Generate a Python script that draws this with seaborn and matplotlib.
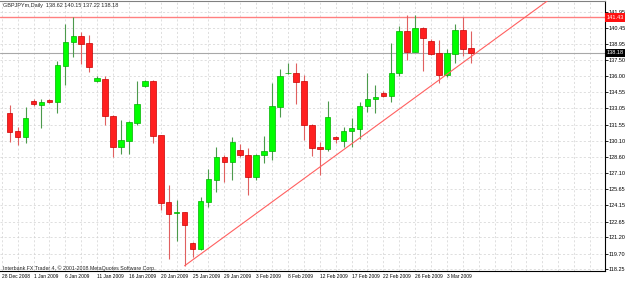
import numpy as np
import pandas as pd
import matplotlib
matplotlib.use('Agg')
import matplotlib.pyplot as plt
import seaborn as sns

sns.set_style('white')
plt.rcParams['font.family'] = ['Liberation Sans Narrow', 'Liberation Sans', 'DejaVu Sans']

# Velas diarias GBPJPY
opens = [132.66, 130.97, 130.45, 133.71, 133.34, 133.83, 133.61, 136.98, 139.13, 139.71,
         139.04, 135.55, 135.79, 132.35, 129.53, 130.08, 131.74, 135.11, 135.55, 130.58,
         124.44, 123.40, 123.52, 120.70, 120.12, 124.47, 126.47, 128.55, 128.15, 129.23,
         128.79, 126.71, 128.79, 129.13, 133.21, 136.28, 136.31, 135.55, 131.50, 129.47,
         129.35, 130.39, 130.03, 130.97, 131.19, 133.27, 133.89, 134.44, 134.22, 136.28,
         140.17, 138.27, 140.45, 139.28, 138.15, 136.15, 138.06, 140.27, 138.62]
highs = [133.34, 131.37, 133.15, 133.89, 133.89, 133.95, 137.41, 140.82, 141.49, 140.05,
         139.78, 136.06, 136.06, 132.42, 131.99, 131.87, 135.60, 135.67, 135.67, 130.63,
         126.01, 124.63, 123.55, 120.75, 124.93, 127.51, 129.53, 128.77, 130.45, 129.75,
         129.41, 128.85, 130.51, 135.42, 136.65, 137.26, 137.26, 136.10, 131.62, 129.93,
         133.76, 130.51, 131.31, 132.14, 133.64, 136.28, 135.23, 134.65, 139.10, 140.66,
         141.65, 141.65, 140.52, 139.41, 139.35, 138.49, 140.82, 141.49, 140.15]
lows = [129.99, 129.69, 129.90, 133.27, 131.22, 133.58, 132.66, 135.21, 137.81, 137.14,
        136.43, 135.45, 131.53, 128.61, 128.86, 128.86, 131.53, 135.05, 129.90, 123.71,
        119.17, 120.88, 118.58, 119.41, 120.03, 124.01, 125.39, 126.31, 126.47, 128.61,
        125.09, 126.47, 128.00, 128.31, 132.29, 136.22, 133.46, 130.15, 128.67, 126.93,
        129.16, 129.90, 129.47, 129.53, 130.21, 132.75, 132.60, 134.13, 133.67, 136.03,
        137.51, 138.20, 136.52, 137.97, 135.36, 135.97, 137.20, 137.87, 137.22]
closes = [130.91, 130.42, 132.17, 133.49, 133.64, 133.64, 137.07, 139.16, 139.71, 139.01,
          136.83, 135.82, 132.35, 129.53, 130.15, 131.80, 133.43, 135.57, 130.51, 124.38,
          123.34, 123.52, 122.33, 120.12, 124.51, 126.53, 128.55, 128.15, 129.96, 128.79,
          126.71, 128.79, 129.16, 133.27, 136.03, 136.34, 135.51, 131.53, 129.44, 129.35,
          132.29, 130.21, 130.95, 131.28, 133.27, 133.92, 134.10, 134.19, 136.28, 140.17,
          138.27, 140.45, 139.56, 138.06, 136.15, 138.12, 140.27, 138.55, 138.18]

date_labels = ['28 Dec 2008', '1 Jan 2009', '6 Jan 2009', '11 Jan 2009', '16 Jan 2009',
               '20 Jan 2009', '25 Jan 2009', '29 Jan 2009', '3 Feb 2009', '8 Feb 2009',
               '12 Feb 2009', '17 Feb 2009', '22 Feb 2009', '26 Feb 2009', '3 Mar 2009']
date_pos = [-1, 3, 7, 11, 15, 19, 23, 27, 31, 35, 39, 43, 47, 51, 55]
price_ticks = [141.95, 140.45, 138.95, 137.50, 136.00, 134.55, 133.05, 131.55, 130.10,
               128.60, 127.10, 125.65, 124.15, 122.65, 121.20, 119.70, 118.25]

level_line = 141.43
last_price = 138.18
trend_x = [22, 55]
trend_y = [118.58, 136.20]

df = pd.DataFrame({'open': opens, 'high': highs, 'low': lows, 'close': closes})
df['bar'] = np.arange(len(df))
df['up'] = df['close'] >= df['open']

fig = plt.figure(figsize=(6.25, 2.81), dpi=100)
ax = fig.add_axes([0, 0.0345, 0.9675, 0.9609])

# grade
ax.set_xticks(date_pos)
ax.set_xticklabels(date_labels, ha='left')
ax.set_xticks(np.arange(-1, 76, 2), minor=True)
ax.yaxis.tick_right()
ax.set_yticks(price_ticks)
ax.set_yticklabels([f'{v:.2f}' for v in price_ticks])
ax.grid(True, which='both', color='#d2d2d2', linestyle=(0, (3, 3)), linewidth=0.5, zorder=0)
ax.set_axisbelow(True)

# linhas horizontais
ax.axhline(last_price, color='#a8a8a8', lw=0.8, zorder=1)
ax.axhline(level_line, color='#ff8080', lw=1.0, zorder=2)

# velas
for up, fill, edge, wick in [(True, '#00ff00', '#00b000', '#4c9a4c'),
                             (False, '#ff2020', '#c80000', '#e06060')]:
    d = df[df['up'] == up]
    ax.vlines(d['bar'], d['low'], d['high'], color=wick, lw=0.8, zorder=3)
    ax.bar(d['bar'], d['close'] - d['open'], bottom=d['open'], width=0.7,
           color=fill, edgecolor=edge, linewidth=0.5, zorder=4)

# linha de tendencia (raio)
slope = (trend_y[1] - trend_y[0]) / (trend_x[1] - trend_x[0])
x_end = 76
sns.lineplot(x=[trend_x[0], x_end], y=[trend_y[0], trend_y[0] + slope * (x_end - trend_x[0])],
             ax=ax, color='#ff6060', lw=0.8, zorder=5)

ax.set_xlim(-1.22, 74.84)
ax.set_ylim(118.07, 142.91)
ax.set_xlabel('')
ax.set_ylabel('')

ax.spines['left'].set_visible(False)
ax.spines['top'].set_color('#808080')
for s in ['top', 'right', 'bottom']:
    ax.spines[s].set_linewidth(0.8)
ax.spines['right'].set_color('black')
ax.spines['bottom'].set_color('black')

ax.tick_params(axis='x', which='major', length=3, width=0.6, direction='out', pad=-0.8,
               labelsize=3.5, colors='black')
ax.tick_params(axis='x', which='minor', length=0)
ax.tick_params(axis='y', length=1.8, width=0.6, direction='out', pad=1, labelsize=4, colors='black')

# etiquetas de preco
ax.text(1.003, level_line, f'{level_line:.2f}', transform=ax.get_yaxis_transform(),
        ha='left', va='center', fontsize=4, color='white',
        bbox=dict(boxstyle='square,pad=0.3', fc='#ff1010', ec='none'), zorder=10)
ax.text(1.003, last_price, f'{last_price:.2f}', transform=ax.get_yaxis_transform(),
        ha='left', va='center', fontsize=4, color='white',
        bbox=dict(boxstyle='square,pad=0.3', fc='black', ec='none'), zorder=10)

fig.text(3 / 625, 1 - 5.5 / 281, 'GBPJPYm,Daily  138.62 140.15 137.22 138.18',
         fontsize=4, va='center', ha='left')
fig.text(3 / 625, (281 - 268.3) / 281,
         'Interbank FX Trader 4, \u00a9 2001-2008 MetaQuotes Software Corp.',
         fontsize=3.8, va='center', ha='left')

fig.savefig('out.png', dpi=100)
